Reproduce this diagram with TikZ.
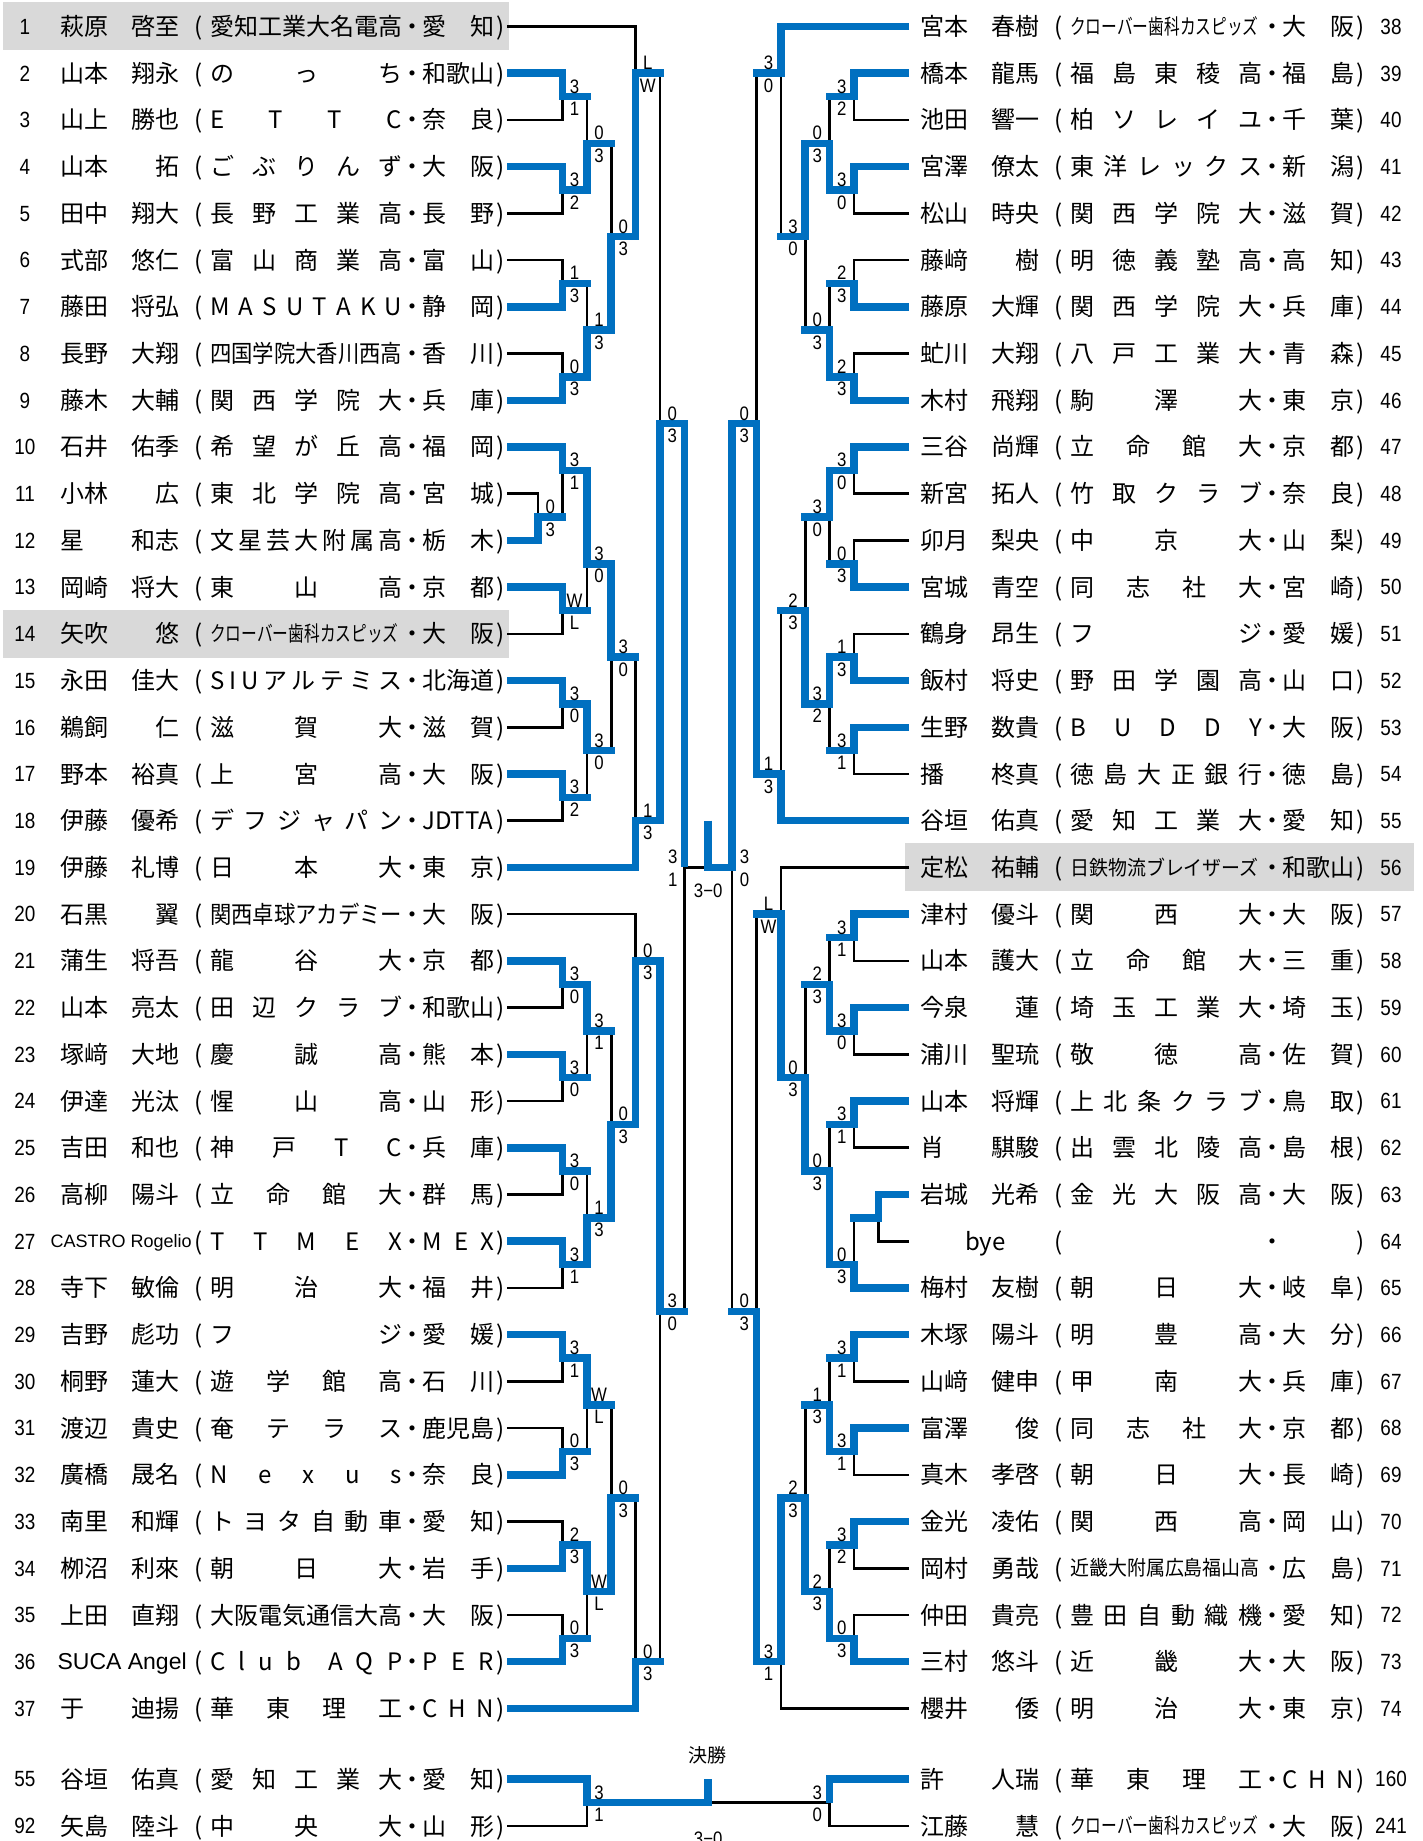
\documentclass[tikz,border=0pt]{standalone}
\usepackage{fontspec}
\usepackage{graphicx}
\setmainfont{Noto Sans CJK JP}
\newfontfamily\jpf{Noto Sans CJK JP}
\newfontfamily\arf{Liberation Sans}
\newfontfamily\arnf[FakeStretch=0.86]{Liberation Sans}
\definecolor{bblue}{RGB}{0,112,192}
\definecolor{hgray}{RGB}{217,217,217}
\pgfdeclarelayer{bg}
\pgfdeclarelayer{blk}
\pgfsetlayers{bg,blk,main}
\makeatletter
\newcommand\spr[1]{\let\spr@sep\relax\@tfor\spr@c:=#1\do{\spr@sep\spr@c\let\spr@sep\hfill}}
\makeatother
\newcommand\wfit[1]{\resizebox{192pt}{\height}{#1}}
\newcommand\sfit[1]{\raisebox{1.1pt}{\scalebox{0.655}[0.88]{#1}}\hfill}
\newcommand\mfit[1]{\raisebox{1.4pt}{\scalebox{0.79}[0.85]{#1}}\hfill}
\newcommand\castro{\hspace*{-9.5pt}\raisebox{2.4pt}{\arf\fontsize{18}{22}\selectfont CASTRO Rogelio}}
\newcommand\suca{\hspace*{-2.6pt}\raisebox{0.8pt}{\arf\fontsize{23}{27}\selectfont SUCA Angel}}
\newcommand\Lrow[7]{%
  \pgfmathsetmacro\yy{#1}%
  \node[numt] (ln#2) at (25,{\yy+7.8}) {#3};
  \node[jpt,anchor=base west] (lf#2) at (60,{\yy+9}) {#4};
  \node[jpt,anchor=base east] (lg#2) at (180,{\yy+9}) {#5};
  \node[jpt] (lo#2) at (199,{\yy+9}) {(};
  \node[jpt,anchor=base west] (ls#2) at (210,{\yy+9}) {\hbox to 192pt{#6}};
  \node[jpt] (ld#2) at (412,{\yy+9}) {・};
  \node[jpt,anchor=base west] (lp#2) at (422,{\yy+9}) {\hbox to 72pt{#7}};
  \node[jpt] (lc#2) at (501,{\yy+9}) {)};
  \coordinate (L#2) at (507,\yy);
}
\newcommand\Rrow[7]{%
  \pgfmathsetmacro\yy{#1}%
  \node[numt] (rn#2) at (1391,{\yy+7.8}) {#3};
  \node[jpt,anchor=base west] (rf#2) at (920,{\yy+9}) {#4};
  \node[jpt,anchor=base east] (rg#2) at (1040,{\yy+9}) {#5};
  \node[jpt] (ro#2) at (1059,{\yy+9}) {(};
  \node[jpt,anchor=base west] (rs#2) at (1070,{\yy+9}) {\hbox to 192pt{#6}};
  \node[jpt] (rd#2) at (1272,{\yy+9}) {・};
  \node[jpt,anchor=base west] (rp#2) at (1282,{\yy+9}) {\hbox to 72pt{#7}};
  \node[jpt] (rc#2) at (1361,{\yy+9}) {)};
  \coordinate (R#2) at (909,\yy);
}
\newcommand\mt[8]{%
  \coordinate (#1m) at ({#4},{ry(#6)});
  \coordinate (#1) at ({#5},{ry(#6)});
  \begin{pgfonlayer}{blk}\draw[lose] (#3) -| (#1m);\end{pgfonlayer}
  \draw[win] (#2) -| (#1m);
  \draw[win,line cap=rect] (#1m) -- (#1);
  \path (#1m) -- (#1) node[sc,midway,yshift=10.5pt]{#7} node[sc,midway,yshift=-12pt]{#8};
}
\begin{document}
\begin{tikzpicture}[x=1pt,y=-1pt,
  declare function={ry(\i)=26.5+(\i-1)*46.72; cl(\k)=538+24.4*\k; cr(\k)=878.4-24.4*\k;},
  jpt/.style={inner sep=0pt,anchor=base,font=\jpf\fontsize{24}{28}\selectfont},
  numt/.style={inner sep=0pt,anchor=base,font=\arnf\fontsize{22}{26}\selectfont},
  sc/.style={inner sep=0pt,font=\arnf\fontsize{19.5}{23}\selectfont,text height=14pt,text depth=0pt},
  win/.style={draw=bblue,line width=7.5pt,line join=miter},
  lose/.style={draw=black,line width=2.6pt,line join=miter}]
\useasboundingbox (0,0) rectangle (1422,1841);
\begin{pgfonlayer}{bg}
\fill[white] (0,0) rectangle (1422,1841);
\fill[hgray] (3,{ry(1)-24}) rectangle (509,{ry(1)+24});
\fill[hgray] (3,{ry(14)-24}) rectangle (509,{ry(14)+24});
\fill[hgray] (905,{ry(19)-24}) rectangle (1414,{ry(19)+24});
\end{pgfonlayer}
\clip (0,0) rectangle (1422,1841);
% ---------- left entries
\Lrow{ry(1)}{1}{1}{萩原}{啓至}{\spr{愛知工業大名電高}}{\spr{愛知}}
\Lrow{ry(2)}{2}{2}{山本}{翔永}{\spr{のっち}}{\spr{和歌山}}
\Lrow{ry(3)}{3}{3}{山上}{勝也}{\spr{ETTC}}{\spr{奈良}}
\Lrow{ry(4)}{4}{4}{山本}{拓}{\spr{ごぶりんず}}{\spr{大阪}}
\Lrow{ry(5)}{5}{5}{田中}{翔大}{\spr{長野工業高}}{\spr{長野}}
\Lrow{ry(6)}{6}{6}{式部}{悠仁}{\spr{富山商業高}}{\spr{富山}}
\Lrow{ry(7)}{7}{7}{藤田}{将弘}{\spr{MASUTAKU}}{\spr{静岡}}
\Lrow{ry(8)}{8}{8}{長野}{大翔}{\wfit{四国学院大香川西高}}{\spr{香川}}
\Lrow{ry(9)}{9}{9}{藤木}{大輔}{\spr{関西学院大}}{\spr{兵庫}}
\Lrow{ry(10)}{10}{10}{石井}{佑季}{\spr{希望が丘高}}{\spr{福岡}}
\Lrow{ry(11)}{11}{11}{小林}{広}{\spr{東北学院高}}{\spr{宮城}}
\Lrow{ry(12)}{12}{12}{星}{和志}{\spr{文星芸大附属高}}{\spr{栃木}}
\Lrow{ry(13)}{13}{13}{岡崎}{将大}{\spr{東山高}}{\spr{京都}}
\Lrow{ry(14)}{14}{14}{矢吹}{悠}{\sfit{クローバー歯科カスピッズ}}{\spr{大阪}}
\Lrow{ry(15)}{15}{15}{永田}{佳大}{\spr{SIUアルテミス}}{\spr{北海道}}
\Lrow{ry(16)}{16}{16}{鵜飼}{仁}{\spr{滋賀大}}{\spr{滋賀}}
\Lrow{ry(17)}{17}{17}{野本}{裕真}{\spr{上宮高}}{\spr{大阪}}
\Lrow{ry(18)}{18}{18}{伊藤}{優希}{\spr{デフジャパン}}{JDTTA\hfill}
\Lrow{ry(19)}{19}{19}{伊藤}{礼博}{\spr{日本大}}{\spr{東京}}
\Lrow{ry(20)}{20}{20}{石黒}{翼}{\wfit{関西卓球アカデミー}}{\spr{大阪}}
\Lrow{ry(21)}{21}{21}{蒲生}{将吾}{\spr{龍谷大}}{\spr{京都}}
\Lrow{ry(22)}{22}{22}{山本}{亮太}{\spr{田辺クラブ}}{\spr{和歌山}}
\Lrow{ry(23)}{23}{23}{塚﨑}{大地}{\spr{慶誠高}}{\spr{熊本}}
\Lrow{ry(24)}{24}{24}{伊達}{光汰}{\spr{惺山高}}{\spr{山形}}
\Lrow{ry(25)}{25}{25}{吉田}{和也}{\spr{神戸TC}}{\spr{兵庫}}
\Lrow{ry(26)}{26}{26}{高柳}{陽斗}{\spr{立命館大}}{\spr{群馬}}
\Lrow{ry(27)}{27}{27}{\castro}{}{\spr{TTMEX}}{\spr{MEX}}
\Lrow{ry(28)}{28}{28}{寺下}{敏倫}{\spr{明治大}}{\spr{福井}}
\Lrow{ry(29)}{29}{29}{吉野}{彪功}{\spr{フジ}}{\spr{愛媛}}
\Lrow{ry(30)}{30}{30}{桐野}{蓮大}{\spr{遊学館高}}{\spr{石川}}
\Lrow{ry(31)}{31}{31}{渡辺}{貴史}{\spr{奄テラス}}{\spr{鹿児島}}
\Lrow{ry(32)}{32}{32}{廣橋}{晟名}{\spr{Nexus}}{\spr{奈良}}
\Lrow{ry(33)}{33}{33}{南里}{和輝}{\spr{トヨタ自動車}}{\spr{愛知}}
\Lrow{ry(34)}{34}{34}{栁沼}{利來}{\spr{朝日大}}{\spr{岩手}}
\Lrow{ry(35)}{35}{35}{上田}{直翔}{\spr{大阪電気通信大高}}{\spr{大阪}}
\Lrow{ry(36)}{36}{36}{\suca}{}{\spr{Club{}AQP}}{\spr{PER}}
\Lrow{ry(37)}{37}{37}{于}{迪揚}{\spr{華東理工}}{\spr{CHN}}
\Lrow{1779}{55}{55}{谷垣}{佑真}{\spr{愛知工業大}}{\spr{愛知}}
\Lrow{1826}{92}{92}{矢島}{陸斗}{\spr{中央大}}{\spr{山形}}
% ---------- right entries
\Rrow{ry(1)}{38}{38}{宮本}{春樹}{\sfit{クローバー歯科カスピッズ}}{\spr{大阪}}
\Rrow{ry(2)}{39}{39}{橋本}{龍馬}{\spr{福島東稜高}}{\spr{福島}}
\Rrow{ry(3)}{40}{40}{池田}{響一}{\spr{柏ソレイユ}}{\spr{千葉}}
\Rrow{ry(4)}{41}{41}{宮澤}{僚太}{\spr{東洋レックス}}{\spr{新潟}}
\Rrow{ry(5)}{42}{42}{松山}{時央}{\spr{関西学院大}}{\spr{滋賀}}
\Rrow{ry(6)}{43}{43}{藤﨑}{樹}{\spr{明徳義塾高}}{\spr{高知}}
\Rrow{ry(7)}{44}{44}{藤原}{大輝}{\spr{関西学院大}}{\spr{兵庫}}
\Rrow{ry(8)}{45}{45}{虻川}{大翔}{\spr{八戸工業大}}{\spr{青森}}
\Rrow{ry(9)}{46}{46}{木村}{飛翔}{\spr{駒澤大}}{\spr{東京}}
\Rrow{ry(10)}{47}{47}{三谷}{尚輝}{\spr{立命館大}}{\spr{京都}}
\Rrow{ry(11)}{48}{48}{新宮}{拓人}{\spr{竹取クラブ}}{\spr{奈良}}
\Rrow{ry(12)}{49}{49}{卯月}{梨央}{\spr{中京大}}{\spr{山梨}}
\Rrow{ry(13)}{50}{50}{宮城}{青空}{\spr{同志社大}}{\spr{宮崎}}
\Rrow{ry(14)}{51}{51}{鶴身}{昂生}{\spr{フジ}}{\spr{愛媛}}
\Rrow{ry(15)}{52}{52}{飯村}{将史}{\spr{野田学園高}}{\spr{山口}}
\Rrow{ry(16)}{53}{53}{生野}{数貴}{\spr{BUDDY}}{\spr{大阪}}
\Rrow{ry(17)}{54}{54}{播}{柊真}{\spr{徳島大正銀行}}{\spr{徳島}}
\Rrow{ry(18)}{55}{55}{谷垣}{佑真}{\spr{愛知工業大}}{\spr{愛知}}
\Rrow{ry(19)}{56}{56}{定松}{祐輔}{\mfit{日鉄物流ブレイザーズ}}{\spr{和歌山}}
\Rrow{ry(20)}{57}{57}{津村}{優斗}{\spr{関西大}}{\spr{大阪}}
\Rrow{ry(21)}{58}{58}{山本}{護大}{\spr{立命館大}}{\spr{三重}}
\Rrow{ry(22)}{59}{59}{今泉}{蓮}{\spr{埼玉工業大}}{\spr{埼玉}}
\Rrow{ry(23)}{60}{60}{浦川}{聖琉}{\spr{敬徳高}}{\spr{佐賀}}
\Rrow{ry(24)}{61}{61}{山本}{将輝}{\spr{上北条クラブ}}{\spr{鳥取}}
\Rrow{ry(25)}{62}{62}{肖}{騏駿}{\spr{出雲北陵高}}{\spr{島根}}
\Rrow{ry(26)}{63}{63}{岩城}{光希}{\spr{金光大阪高}}{\spr{大阪}}
\Rrow{ry(27)}{64}{64}{\hspace*{45pt}bye}{}{}{}
\Rrow{ry(28)}{65}{65}{梅村}{友樹}{\spr{朝日大}}{\spr{岐阜}}
\Rrow{ry(29)}{66}{66}{木塚}{陽斗}{\spr{明豊高}}{\spr{大分}}
\Rrow{ry(30)}{67}{67}{山﨑}{健申}{\spr{甲南大}}{\spr{兵庫}}
\Rrow{ry(31)}{68}{68}{富澤}{俊}{\spr{同志社大}}{\spr{京都}}
\Rrow{ry(32)}{69}{69}{真木}{孝啓}{\spr{朝日大}}{\spr{長崎}}
\Rrow{ry(33)}{70}{70}{金光}{凌佑}{\spr{関西高}}{\spr{岡山}}
\Rrow{ry(34)}{71}{71}{岡村}{勇哉}{\mfit{近畿大附属広島福山高}}{\spr{広島}}
\Rrow{ry(35)}{72}{72}{仲田}{貴亮}{\spr{豊田自動織機}}{\spr{愛知}}
\Rrow{ry(36)}{73}{73}{三村}{悠斗}{\spr{近畿大}}{\spr{大阪}}
\Rrow{ry(37)}{74}{74}{櫻井}{倭}{\spr{明治大}}{\spr{東京}}
\Rrow{1779}{160}{160}{許}{人瑞}{\spr{華東理工}}{\spr{CHN}}
\Rrow{1826}{241}{241}{江藤}{慧}{\sfit{クローバー歯科カスピッズ}}{\spr{大阪}}
% ---------- left bracket
\mt{a1}{L2}{L3}{cl(1)}{cl(2)}{2.5}{3}{1}
\mt{a2}{L4}{L5}{cl(1)}{cl(2)}{4.5}{3}{2}
\mt{a3}{a2}{a1}{cl(2)}{cl(3)}{3.5}{0}{3}
\mt{a4}{L7}{L6}{cl(1)}{cl(2)}{6.5}{1}{3}
\mt{a5}{L9}{L8}{cl(1)}{cl(2)}{8.5}{0}{3}
\mt{a6}{a5}{a4}{cl(2)}{cl(3)}{7.5}{1}{3}
\mt{a7}{a6}{a3}{cl(3)}{cl(4)}{5.5}{0}{3}
\mt{a8}{a7}{L1}{cl(4)}{cl(5)}{2}{L}{W}
\mt{b0}{L12}{L11}{cl(0)}{cl(1)}{11.5}{0}{3}
\mt{b1}{L10}{b0}{cl(1)}{cl(2)}{10.5}{3}{1}
\mt{b2}{L13}{L14}{cl(1)}{cl(2)}{13.5}{W}{L}
\mt{b3}{b1}{b2}{cl(2)}{cl(3)}{12.5}{3}{0}
\mt{b4}{L15}{L16}{cl(1)}{cl(2)}{15.5}{3}{0}
\mt{b5}{L17}{L18}{cl(1)}{cl(2)}{17.5}{3}{2}
\mt{b6}{b4}{b5}{cl(2)}{cl(3)}{16.5}{3}{0}
\mt{b7}{b3}{b6}{cl(3)}{cl(4)}{14.5}{3}{0}
\mt{b8}{L19}{b7}{cl(4)}{cl(5)}{18}{1}{3}
\mt{t1}{b8}{a8}{cl(5)}{cl(6)}{9.5}{0}{3}
\mt{c1}{L21}{L22}{cl(1)}{cl(2)}{21.5}{3}{0}
\mt{c2}{L23}{L24}{cl(1)}{cl(2)}{23.5}{3}{0}
\mt{c3}{c1}{c2}{cl(2)}{cl(3)}{22.5}{3}{1}
\mt{c4}{L25}{L26}{cl(1)}{cl(2)}{25.5}{3}{0}
\mt{c5}{L27}{L28}{cl(1)}{cl(2)}{27.5}{3}{1}
\mt{c6}{c5}{c4}{cl(2)}{cl(3)}{26.5}{1}{3}
\mt{c7}{c6}{c3}{cl(3)}{cl(4)}{24.5}{0}{3}
\mt{c8}{c7}{L20}{cl(4)}{cl(5)}{21}{0}{3}
\mt{d1}{L29}{L30}{cl(1)}{cl(2)}{29.5}{3}{1}
\mt{d2}{L32}{L31}{cl(1)}{cl(2)}{31.5}{0}{3}
\mt{d3}{d1}{d2}{cl(2)}{cl(3)}{30.5}{W}{L}
\mt{d4}{L34}{L33}{cl(1)}{cl(2)}{33.5}{2}{3}
\mt{d5}{L36}{L35}{cl(1)}{cl(2)}{35.5}{0}{3}
\mt{d6}{d4}{d5}{cl(2)}{cl(3)}{34.5}{W}{L}
\mt{d7}{d6}{d3}{cl(3)}{cl(4)}{32.5}{0}{3}
\mt{d8}{L37}{d7}{cl(4)}{cl(5)}{36}{0}{3}
\mt{t2}{c8}{d8}{cl(5)}{cl(6)}{28.5}{3}{0}
% ---------- right bracket
\mt{e1}{R39}{R40}{cr(1)}{cr(2)}{2.5}{3}{2}
\mt{e2}{R41}{R42}{cr(1)}{cr(2)}{4.5}{3}{0}
\mt{e3}{e2}{e1}{cr(2)}{cr(3)}{3.5}{0}{3}
\mt{e4}{R44}{R43}{cr(1)}{cr(2)}{6.5}{2}{3}
\mt{e5}{R46}{R45}{cr(1)}{cr(2)}{8.5}{2}{3}
\mt{e6}{e5}{e4}{cr(2)}{cr(3)}{7.5}{0}{3}
\mt{e7}{e3}{e6}{cr(3)}{cr(4)}{5.5}{3}{0}
\mt{e8}{R38}{e7}{cr(4)}{cr(5)}{2}{3}{0}
\mt{f1}{R47}{R48}{cr(1)}{cr(2)}{10.5}{3}{0}
\mt{f2}{R50}{R49}{cr(1)}{cr(2)}{12.5}{0}{3}
\mt{f3}{f1}{f2}{cr(2)}{cr(3)}{11.5}{3}{0}
\mt{f4}{R52}{R51}{cr(1)}{cr(2)}{14.5}{1}{3}
\mt{f5}{R53}{R54}{cr(1)}{cr(2)}{16.5}{3}{1}
\mt{f6}{f4}{f5}{cr(2)}{cr(3)}{15.5}{3}{2}
\mt{f7}{f6}{f3}{cr(3)}{cr(4)}{13.5}{2}{3}
\mt{f8}{R55}{f7}{cr(4)}{cr(5)}{17}{1}{3}
\mt{u1}{f8}{e8}{cr(5)}{cr(6)}{9.5}{0}{3}
\mt{g1}{R57}{R58}{cr(1)}{cr(2)}{20.5}{3}{1}
\mt{g2}{R59}{R60}{cr(1)}{cr(2)}{22.5}{3}{0}
\mt{g3}{g2}{g1}{cr(2)}{cr(3)}{21.5}{2}{3}
\mt{g0}{R63}{R64}{cr(0)}{cr(1)}{26.5}{}{}
\mt{g4}{R61}{R62}{cr(1)}{cr(2)}{24.5}{3}{1}
\mt{g5}{R65}{g0}{cr(1)}{cr(2)}{27.5}{0}{3}
\mt{g6}{g5}{g4}{cr(2)}{cr(3)}{25.5}{0}{3}
\mt{g7}{g6}{g3}{cr(3)}{cr(4)}{23.5}{0}{3}
\mt{g8}{g7}{R56}{cr(4)}{cr(5)}{20}{L}{W}
\mt{h1}{R66}{R67}{cr(1)}{cr(2)}{29.5}{3}{1}
\mt{h2}{R68}{R69}{cr(1)}{cr(2)}{31.5}{3}{1}
\mt{h3}{h2}{h1}{cr(2)}{cr(3)}{30.5}{1}{3}
\mt{h4}{R70}{R71}{cr(1)}{cr(2)}{33.5}{3}{2}
\mt{h5}{R73}{R72}{cr(1)}{cr(2)}{35.5}{0}{3}
\mt{h6}{h5}{h4}{cr(2)}{cr(3)}{34.5}{2}{3}
\mt{h7}{h6}{h3}{cr(3)}{cr(4)}{32.5}{2}{3}
\mt{h8}{h7}{R74}{cr(4)}{cr(5)}{36}{3}{1}
\mt{u2}{h8}{g8}{cr(5)}{cr(6)}{28.5}{0}{3}
% ---------- centre
\coordinate (CL) at ({cl(6)},{ry(19)});
\coordinate (CR) at ({cr(6)},{ry(19)});
\coordinate (CM) at (708.2,{ry(19)});
\coordinate (CMt) at (708.2,{ry(18)});
\begin{pgfonlayer}{blk}
\draw[lose] (t2) -- (CL) -- (CR);
\draw[lose] (u2) -- (CR);
\end{pgfonlayer}
\draw[win] (t1) -- (CL);
\draw[win] (CMt) -- (CM) -- (CR) -- (u1);
\path (CL) node[sc,xshift=-11.5pt,yshift=10.5pt]{3} node[sc,xshift=-11.5pt,yshift=-12pt]{1};
\path (CR) node[sc,xshift=12.5pt,yshift=10.5pt]{3} node[sc,xshift=12.5pt,yshift=-12pt]{0};
\node[sc] (sfres) at (708.2,{ry(19)+23.5}) {3−0};
% ---------- final
\coordinate (FM) at ({cl(2)},1802.5);
\coordinate (FRM) at ({cr(2)},1802.5);
\coordinate (FC) at (708.2,1802.5);
\coordinate (FCt) at (708.2,1779);
\begin{pgfonlayer}{blk}
\draw[lose] (L92) -| (FM);
\draw[lose] (R241) -| (FRM);
\draw[lose] (FC) -- (FRM);
\end{pgfonlayer}
\draw[win] (L55) -| (FM) -- (FC) -- (FCt);
\draw[win] (R160) -| (FRM);
\path (FM) node[sc,xshift=12.2pt,yshift=10.5pt]{3} node[sc,xshift=12.2pt,yshift=-12pt]{1};
\path (FRM) node[sc,xshift=-12.2pt,yshift=10.5pt]{3} node[sc,xshift=-12.2pt,yshift=-12pt]{0};
\node[jpt,anchor=center,font=\jpf\fontsize{19}{23}\selectfont] (kessho) at (707,1755) {決勝};
\node[sc] (fres) at (708.2,1838) {3−0};
\end{tikzpicture}
\end{document}
